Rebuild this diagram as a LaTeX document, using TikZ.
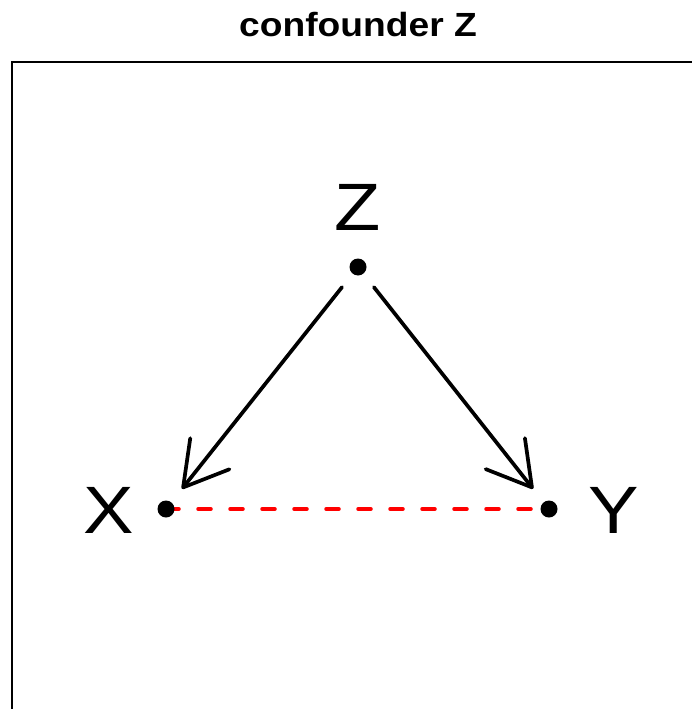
\documentclass[tikz,border=0pt]{standalone}
\usepackage{fontspec}
\usepackage{graphicx}
\setmainfont{Liberation Sans}
\usetikzlibrary{arrows.meta}
\begin{document}
\begin{tikzpicture}[x=1pt,y=-1pt,
  dot/.style={circle,fill=black,inner sep=0pt,minimum size=17pt},
  lbl/.style={inner sep=0pt,anchor=base,font=\fontsize{67}{67}\selectfont},
  ttl/.style={inner sep=0pt,anchor=base,font=\bfseries\fontsize{33.5}{33.5}\selectfont},
  arr/.style={line width=3.7pt,line cap=round,line join=round,-{Straight Barb[length=43pt,width=50pt,round]},shorten <=17pt,shorten >=17pt},
  conf/.style={red,line width=3.5pt,line cap=round,dash pattern=on 13pt off 19pt}]
\useasboundingbox (0,0) rectangle (692,709);
\draw[line width=2pt] (12,720) -- (12,62) -- (700,62);
\node[ttl] (title) at (358,37) {\scalebox{1.11}[1]{confounder Z}};
\coordinate (px) at (166,509);
\coordinate (py) at (549,509);
\coordinate (pz) at (358,267);
\draw[conf] (px) -- (py);
\node[dot] (X) at (px) {};
\node[dot] (Y) at (py) {};
\node[dot] (Z) at (pz) {};
\node[lbl] (lx) at (109,533) {\scalebox{1.13}[1]{X}};
\node[lbl] (ly) at (614,533) {\scalebox{1.13}[1]{Y}};
\node[lbl] (lz) at (358,230) {\scalebox{1.13}[1]{Z}};
\draw[arr] (Z) -- (X);
\draw[arr] (Z) -- (Y);
\end{tikzpicture}
\end{document}
